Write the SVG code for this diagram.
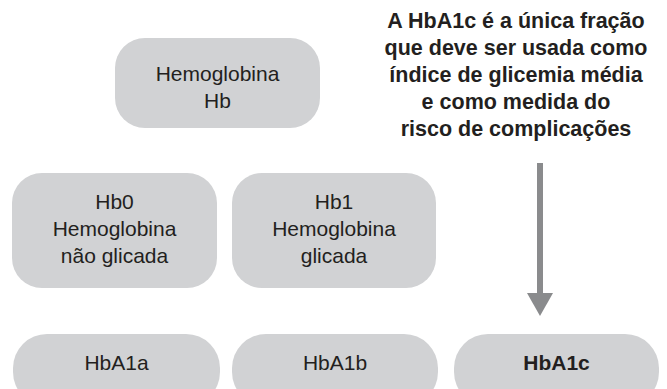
<svg xmlns="http://www.w3.org/2000/svg" width="667" height="389" viewBox="0 0 667 389">
<style>
.box{fill:#d1d2d4}
.t{font-family:"Liberation Sans",Arial,sans-serif;font-size:21px;fill:#231f20;text-anchor:middle}
.b{font-weight:bold}
.n{font-size:21.5px}
</style>
<rect width="667" height="389" fill="#ffffff"/>
<g id="hb">
<rect class="box" x="115" y="38" width="205" height="90" rx="30"/>
<text class="t" x="217.5" y="81">Hemoglobina</text>
<text class="t" x="217.5" y="108">Hb</text>
</g>
<g id="hb0">
<rect class="box" x="12" y="173" width="205" height="115" rx="30"/>
<text class="t" x="114.5" y="209">Hb0</text>
<text class="t" x="114.5" y="236">Hemoglobina</text>
<text class="t" x="114.5" y="263">não glicada</text>
</g>
<g id="hb1">
<rect class="box" x="232" y="173" width="204" height="115" rx="30"/>
<text class="t" x="334" y="209">Hb1</text>
<text class="t" x="334" y="236">Hemoglobina</text>
<text class="t" x="334" y="263">glicada</text>
</g>
<g id="hba1a">
<rect class="box" x="13" y="334" width="207" height="72" rx="34"/>
<text class="t" x="116.5" y="370">HbA1a</text>
</g>
<g id="hba1b">
<rect class="box" x="232" y="334" width="206" height="72" rx="34"/>
<text class="t" x="335" y="370">HbA1b</text>
</g>
<g id="hba1c">
<rect class="box" x="454" y="334" width="205" height="72" rx="34"/>
<text class="t b" x="556.5" y="370">HbA1c</text>
</g>
<g id="note">
<text class="t b n" x="516" y="28">A HbA1c é a única fração</text>
<text class="t b n" x="516" y="55">que deve ser usada como</text>
<text class="t b n" x="516" y="82">índice de glicemia média</text>
<text class="t b n" x="516" y="109">e como medida do</text>
<text class="t b n" x="516" y="136">risco de complicações</text>
</g>
<g id="connectors">
<rect x="537" y="163" width="6" height="131" fill="#8a8b8d"/>
<polygon points="527,293 553,293 540,316" fill="#8a8b8d"/>
</g>
</svg>
